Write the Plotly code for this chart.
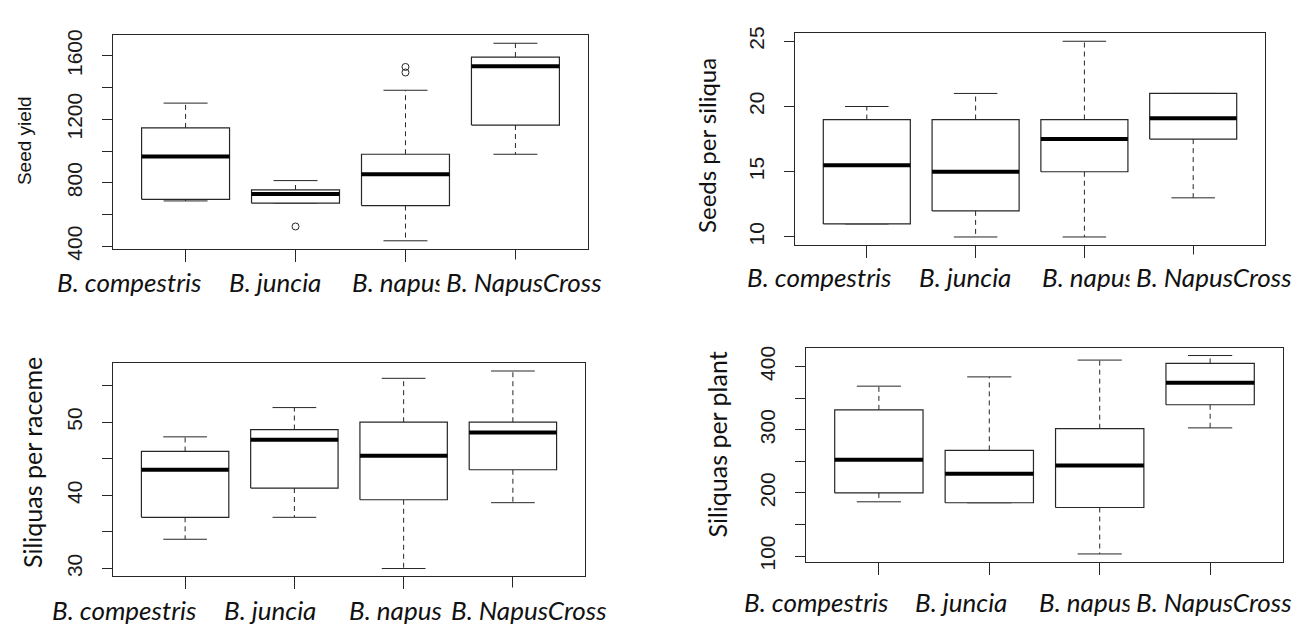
import plotly.graph_objects as go

W, H = 1302, 626

categories = ["B. compestris", "B. juncia", "B. napus", "B. NapusCross"]
cat_pos = [1, 2, 3, 4]

# Panel 1: Seed yield
sy_lower = [686, 672, 435, 980]
sy_q1 = [696, 672, 657, 1164]
sy_median = [966, 730, 854, 1535]
sy_q3 = [1146, 755, 980, 1592]
sy_upper = [1302, 814, 1383, 1679]
sy_out_x = [2, 3, 3]
sy_out_y = [525, 1495, 1530]
sy_ticks = [400, 600, 800, 1000, 1200, 1400, 1600]
sy_ticktext = ["400", "", "800", "", "1200", "", "1600"]

# Panel 2: Seeds per siliqua
sps_lower = [11, 10, 10, 13]
sps_q1 = [11, 12, 15, 17.5]
sps_median = [15.5, 15, 17.5, 19.1]
sps_q3 = [19, 19, 19, 21]
sps_upper = [20, 21, 25, 21]
sps_ticks = [10, 15, 20, 25]
sps_ticktext = ["10", "15", "20", "25"]

# Panel 3: Siliquas per raceme
spr_lower = [34, 37, 30, 39]
spr_q1 = [37, 41, 39.4, 43.5]
spr_median = [43.5, 47.6, 45.4, 48.6]
spr_q3 = [46, 49, 50, 50]
spr_upper = [48, 52, 56, 57]
spr_ticks = [30, 35, 40, 45, 50, 55]
spr_ticktext = ["30", "", "40", "", "50", ""]

# Panel 4: Siliquas per plant
spp_lower = [186, 184.5, 103.5, 303]
spp_q1 = [200, 184.5, 177, 339.6]
spp_median = [252.5, 230.6, 243.3, 374.5]
spp_q3 = [331.5, 267.4, 301.7, 405]
spp_upper = [369, 383.7, 410.3, 417.5]
spp_ticks = [100, 150, 200, 250, 300, 350, 400]
spp_ticktext = ["100", "", "200", "", "300", "", "400"]

BOX_HALF = 0.4
STAPLE_HALF = 0.2
LINE = "#262626"

panels = [
    dict(lo=sy_lower, q1=sy_q1, med=sy_median, q3=sy_q3, up=sy_upper,
         ox=sy_out_x, oy=sy_out_y, ticks=sy_ticks, ticktext=sy_ticktext,
         box=(105, 580, 21, 241)),
    dict(lo=sps_lower, q1=sps_q1, med=sps_median, q3=sps_q3, up=sps_upper,
         ox=[], oy=[], ticks=sps_ticks, ticktext=sps_ticktext,
         box=(787, 1257, 19, 237)),
    dict(lo=spr_lower, q1=spr_q1, med=spr_median, q3=spr_q3, up=spr_upper,
         ox=[], oy=[], ticks=spr_ticks, ticktext=spr_ticktext,
         box=(105, 577, 359, 579)),
    dict(lo=spp_lower, q1=spp_q1, med=spp_median, q3=spp_q3, up=spp_upper,
         ox=[], oy=[], ticks=spp_ticks, ticktext=spp_ticktext,
         box=(798, 1275, 343, 564)),
]

fig = go.Figure()
layout = {}

for k, p in enumerate(panels):
    sfx = "" if k == 0 else str(k + 1)
    xa, ya = "x" + sfx, "y" + sfx
    bx, by, wx, wy, sx, sy, mx, my = [], [], [], [], [], [], [], []
    for i, c in enumerate(cat_pos):
        l, r = c - BOX_HALF, c + BOX_HALF
        bx += [l, r, r, l, l, None]
        by += [p["q1"][i], p["q1"][i], p["q3"][i], p["q3"][i], p["q1"][i], None]
        mx += [l, r, None]
        my += [p["med"][i], p["med"][i], None]
        wx += [c, c, None, c, c, None]
        wy += [p["q3"][i], p["up"][i], None, p["q1"][i], p["lo"][i], None]
        sx += [c - STAPLE_HALF, c + STAPLE_HALF, None, c - STAPLE_HALF, c + STAPLE_HALF, None]
        sy += [p["up"][i], p["up"][i], None, p["lo"][i], p["lo"][i], None]
    common = dict(xaxis=xa, yaxis=ya, mode="lines", showlegend=False, hoverinfo="skip")
    fig.add_trace(go.Scatter(x=wx, y=wy, line=dict(color=LINE, width=1, dash="5px,4px"), **common))
    fig.add_trace(go.Scatter(x=sx, y=sy, line=dict(color=LINE, width=1), **common))
    fig.add_trace(go.Scatter(x=bx, y=by, fill="toself", fillcolor="white",
                             line=dict(color=LINE, width=1.2), **common))
    fig.add_trace(go.Scatter(x=mx, y=my, line=dict(color="black", width=4), **common))
    if p["ox"]:
        fig.add_trace(go.Scatter(x=p["ox"], y=p["oy"], mode="markers", xaxis=xa, yaxis=ya,
                                 showlegend=False, hoverinfo="skip",
                                 marker=dict(symbol="circle-open", size=7, color=LINE,
                                             line=dict(width=1))))
    allv = p["lo"] + p["up"] + p["oy"]
    vmin, vmax = min(allv), max(allv)
    pad = (vmax - vmin) * 0.04
    x0, x1, y0, y1 = p["box"]
    layout["xaxis" + sfx] = dict(
        domain=[x0 / W, x1 / W], anchor=ya, range=[0.34, 4.66],
        tickvals=cat_pos, showticklabels=False, ticks="outside", ticklen=12,
        tickcolor=LINE, showline=True, mirror=True, linecolor=LINE, linewidth=1,
        showgrid=False, zeroline=False, fixedrange=True)
    layout["yaxis" + sfx] = dict(
        domain=[1 - y1 / H, 1 - y0 / H], anchor=xa, range=[vmin - pad, vmax + pad],
        tickvals=p["ticks"], ticktext=p["ticktext"], ticks="outside", ticklen=10,
        tickcolor=LINE, tickangle=-90, ticklabelstandoff=12,
        tickfont=dict(family="Liberation Sans", size=21, color="#1a1a1a"),
        showline=True, mirror=True, linecolor=LINE, linewidth=1,
        showgrid=False, zeroline=False, fixedrange=True)

annotations = []

def label(text, px, py, size=26, italic=True, family="Lato", anchor="left", angle=0, bg=None, pad=1):
    d = dict(text=text, x=px / W, y=1 - py / H, xref="paper", yref="paper",
             xanchor=anchor, yanchor="middle", showarrow=False, textangle=angle,
             font=dict(family=family, size=size, color="#111111",
                       style="italic" if italic else "normal"),
             borderpad=pad)
    if bg:
        d["bgcolor"] = bg
    annotations.append(d)

# category labels (left edge px, centre y px) per panel
cat_label_pos = [
    ([47, 219, 342, 437], 275),
    ([737, 909, 1032, 1127], 270),
    ([42, 214, 339, 442], 614),
    ([734, 905, 1029, 1127], 605),
]
for xs, yc in cat_label_pos:
    for j, name in enumerate(categories):
        if j == 3:
            label(name, xs[j] - 6, yc, bg="white", pad=6)
        else:
            label(name, xs[j], yc)

# y-axis titles
label("Seed yield", 16, 130, size=19, italic=False, family="Liberation Sans", anchor="center", angle=-90)
label("Seeds per siliqua", 699, 134, size=24, italic=False, anchor="center", angle=-90)
label("Siliquas per raceme", 24, 462, size=25, italic=False, anchor="center", angle=-90)
label("Siliquas per plant", 709, 443, size=25, italic=False, anchor="center", angle=-90)

fig.update_layout(
    width=W, height=H, margin=dict(l=0, r=0, t=0, b=0),
    paper_bgcolor="white", plot_bgcolor="white",
    annotations=annotations, **layout)

fig.write_html("out.html")
